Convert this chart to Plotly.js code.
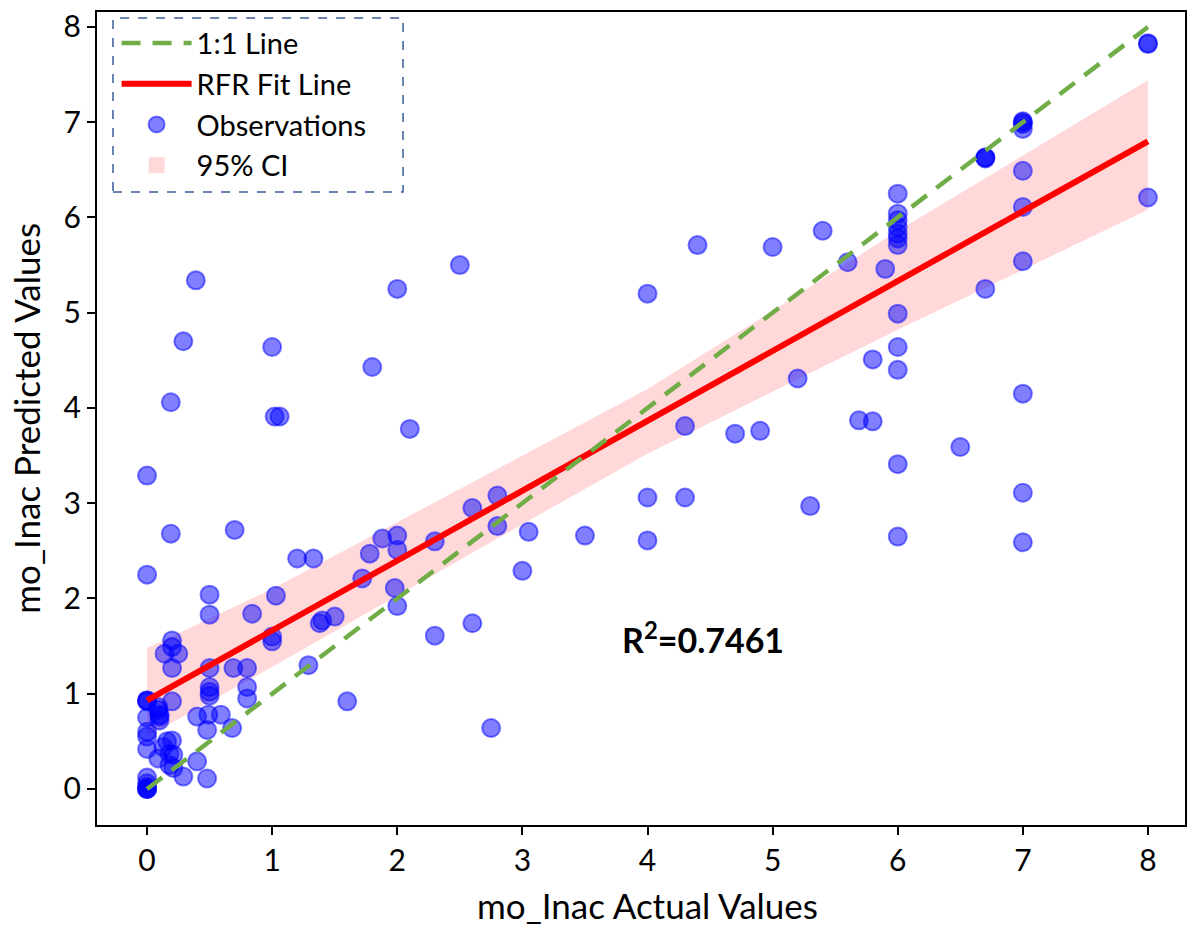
<!DOCTYPE html>
<html>
<head>
<meta charset="utf-8">
<script src="https://cdn.plot.ly/plotly-3.0.1.min.js"></script>
<style>html,body{margin:0;padding:0;background:#fff;}#chart{width:1203px;height:928px;}</style>
</head>
<body>
<div id="chart"></div>
<script>
// Observations: actual (x) vs predicted (y)
const actualValues = [
  0,0,0,0,0,0,0,0,0,0,0,0,0,0,0,
  0.09,0.09,0.1,0.1,0.1,
  0.2,0.2,0.2,0.14,0.25,0.2,0.19,0.19,0.29,0.39,
  0.16,0.2,0.13,0.18,0.09,0.21,0.18,0.21,0.4,0.29,0.48,
  0.4,0.49,0.59,0.48,0.68,
  0.5,0.5,0.5,0.8,0.8,
  0.5,0.69,0.8,
  0.5,0.5,0.84,0.7,
  1.0,1.0,1.03,1.29,1.0,1.02,1.06,
  1.2,1.33,1.38,1.4,1.5,1.6,
  1.72,1.78,1.8,1.88,2.0,2.0,1.98,2.0,2.0,2.1,
  2.3,2.3,2.5,2.6,2.6,2.75,2.8,2.8,3.0,3.05,3.5,
  4.0,4.0,4.0,4.3,4.3,4.4,4.7,4.9,5.0,
  5.2,5.3,5.4,5.6,5.69,5.8,5.8,5.9,6.5,
  6,6,6,6,6,6,6,6,6,6,6,6,
  6.7,6.7,6.7,6.7,
  7,7,7,7,7,7,7,7,7,7,
  8,8,8
];
const predictedValues = [
  3.29,2.25,0.93,0.93,0.92,0.75,0.6,0.55,0.42,0.12,0.06,0.02,0.0,0.0,0.0,
  0.86,0.83,0.78,0.76,0.72,
  0.92,1.56,1.49,1.42,1.42,1.27,2.68,4.06,4.70,5.34,
  0.5,0.51,0.44,0.37,0.32,0.36,0.25,0.22,0.29,0.13,0.11,
  0.76,0.78,0.78,0.62,0.64,
  1.07,1.02,0.98,1.07,0.95,
  1.27,1.27,1.27,
  2.04,1.83,1.84,2.72,
  1.6,1.55,2.03,1.30,4.64,3.91,3.91,
  2.42,2.42,1.74,1.77,1.81,0.92,
  2.21,2.47,4.43,2.63,2.66,2.51,2.11,1.92,5.25,3.78,
  2.6,1.61,5.5,2.95,1.74,0.64,3.08,2.76,2.29,2.70,2.66,
  5.2,3.06,2.61,3.81,3.06,5.71,3.73,3.76,5.69,
  4.31,2.97,5.86,5.53,3.87,3.86,4.51,5.46,3.59,
  6.25,6.04,5.97,5.90,5.83,5.78,5.71,4.99,4.64,4.40,3.41,2.65,
  6.63,6.63,6.62,5.25,
  7.01,7.0,6.98,6.93,6.49,6.11,5.54,4.15,3.11,2.59,
  7.83,7.82,6.21
];
// 1:1 line
const identityX = [0, 8];
const identityY = [0, 8];
// RFR fit line
const fitX = [0, 8];
const fitY = [0.93, 6.80];
// 95% CI band
const ciX = [0, 1, 2, 3, 4, 5, 6, 7, 8];
const ciUpper = [1.48, 2.10, 2.80, 3.50, 4.20, 5.02, 5.86, 6.65, 7.44];
const ciLower = [0.55, 1.28, 2.03, 2.78, 3.52, 4.17, 4.82, 5.45, 6.08];
const xTicks = [0,1,2,3,4,5,6,7,8];
const yTicks = [0,1,2,3,4,5,6,7,8];
const xTitle = 'mo_Inac Actual Values';
const yTitle = 'mo_Inac Predicted Values';
const r2Text = 'R<sup>2</sup>=0.7461';

const FONT = 'Lato, "Noto Sans", sans-serif';

const traces = [
  {x: ciX, y: ciLower, mode: 'lines', line: {width: 0}, showlegend: false, hoverinfo: 'skip', type: 'scatter'},
  {x: ciX, y: ciUpper, mode: 'lines', line: {width: 0}, fill: 'tonexty', fillcolor: 'rgba(255,0,0,0.15)',
   showlegend: false, type: 'scatter'},
  // legend entry for the CI band (square swatch)
  {x: [null], y: [null], mode: 'markers', name: '95% CI', legendrank: 4, legendgroup: 'd',
   marker: {symbol: 'square', size: 16, color: 'rgba(255,0,0,0.15)', line: {width: 0}}, type: 'scatter'},
  {x: actualValues, y: predictedValues, mode: 'markers', name: 'Observations', legendrank: 3, legendgroup: 'c',
   marker: {size: 18, color: 'rgba(0,0,255,0.5)', line: {color: 'rgba(0,0,255,0.5)', width: 2}}, type: 'scatter'},
  {x: fitX, y: fitY, mode: 'lines', name: 'RFR Fit Line', legendrank: 2, legendgroup: 'b',
   line: {color: '#ff0000', width: 6}, type: 'scatter'},
  {x: identityX, y: identityY, mode: 'lines', name: '1:1 Line', legendrank: 1, legendgroup: 'a',
   line: {color: '#70ad47', width: 4.5, dash: '19px,12px'}, type: 'scatter'}
];

const axisCommon = {
  showgrid: false, zeroline: false, showline: true, mirror: true,
  linecolor: '#000', linewidth: 2, ticks: 'outside', ticklen: 8, tickwidth: 2, tickcolor: '#000',
  tickfont: {family: FONT, size: 30, color: '#000'}
};

const layout = {
  width: 1203, height: 928,
  margin: {l: 97, r: 18, t: 12, b: 103},
  paper_bgcolor: '#fff', plot_bgcolor: '#fff',
  font: {family: FONT, color: '#000'},
  xaxis: Object.assign({}, axisCommon, {
    range: [-0.4, 8.296], tickvals: xTicks, ticktext: xTicks.map(String)
  }),
  yaxis: Object.assign({}, axisCommon, {
    range: [-0.378, 8.157], tickvals: yTicks, ticktext: yTicks.map(String)
  }),
  showlegend: true,
  legend: {
    x: 0.018, y: 0.993, xanchor: 'left', yanchor: 'top',
    bgcolor: 'rgba(0,0,0,0)', borderwidth: 0,
    font: {family: FONT, size: 29, color: '#000'},
    traceorder: 'grouped', tracegroupgap: 0, itemwidth: 70
  },
  shapes: [{
    type: 'rect', xref: 'paper', yref: 'paper',
    x0: 0.0147, x1: 0.2813, y0: 0.7786, y1: 0.9926,
    line: {color: '#3a5b9a', width: 1.5, dash: 'dash'}, fillcolor: 'rgba(0,0,0,0)', layer: 'above'
  }],
  annotations: [
    {x: 4.44, y: 1.585, xref: 'x', yref: 'y', text: '<b>' + r2Text + '</b>', showarrow: false,
     font: {family: FONT, size: 34, color: '#000'}},
    {x: 0.5064, y: -0.0984, xref: 'paper', yref: 'paper', xanchor: 'center', yanchor: 'middle',
     text: xTitle, showarrow: false, font: {family: FONT, size: 35, color: '#000'}},
    {x: -0.0655, y: 0.5006, xref: 'paper', yref: 'paper', xanchor: 'center', yanchor: 'middle',
     text: yTitle, textangle: -90, showarrow: false, font: {family: FONT, size: 35, color: '#000'}}
  ]
};

Plotly.newPlot('chart', traces, layout, {displayModeBar: false, staticPlot: true});
</script>
</body>
</html>
